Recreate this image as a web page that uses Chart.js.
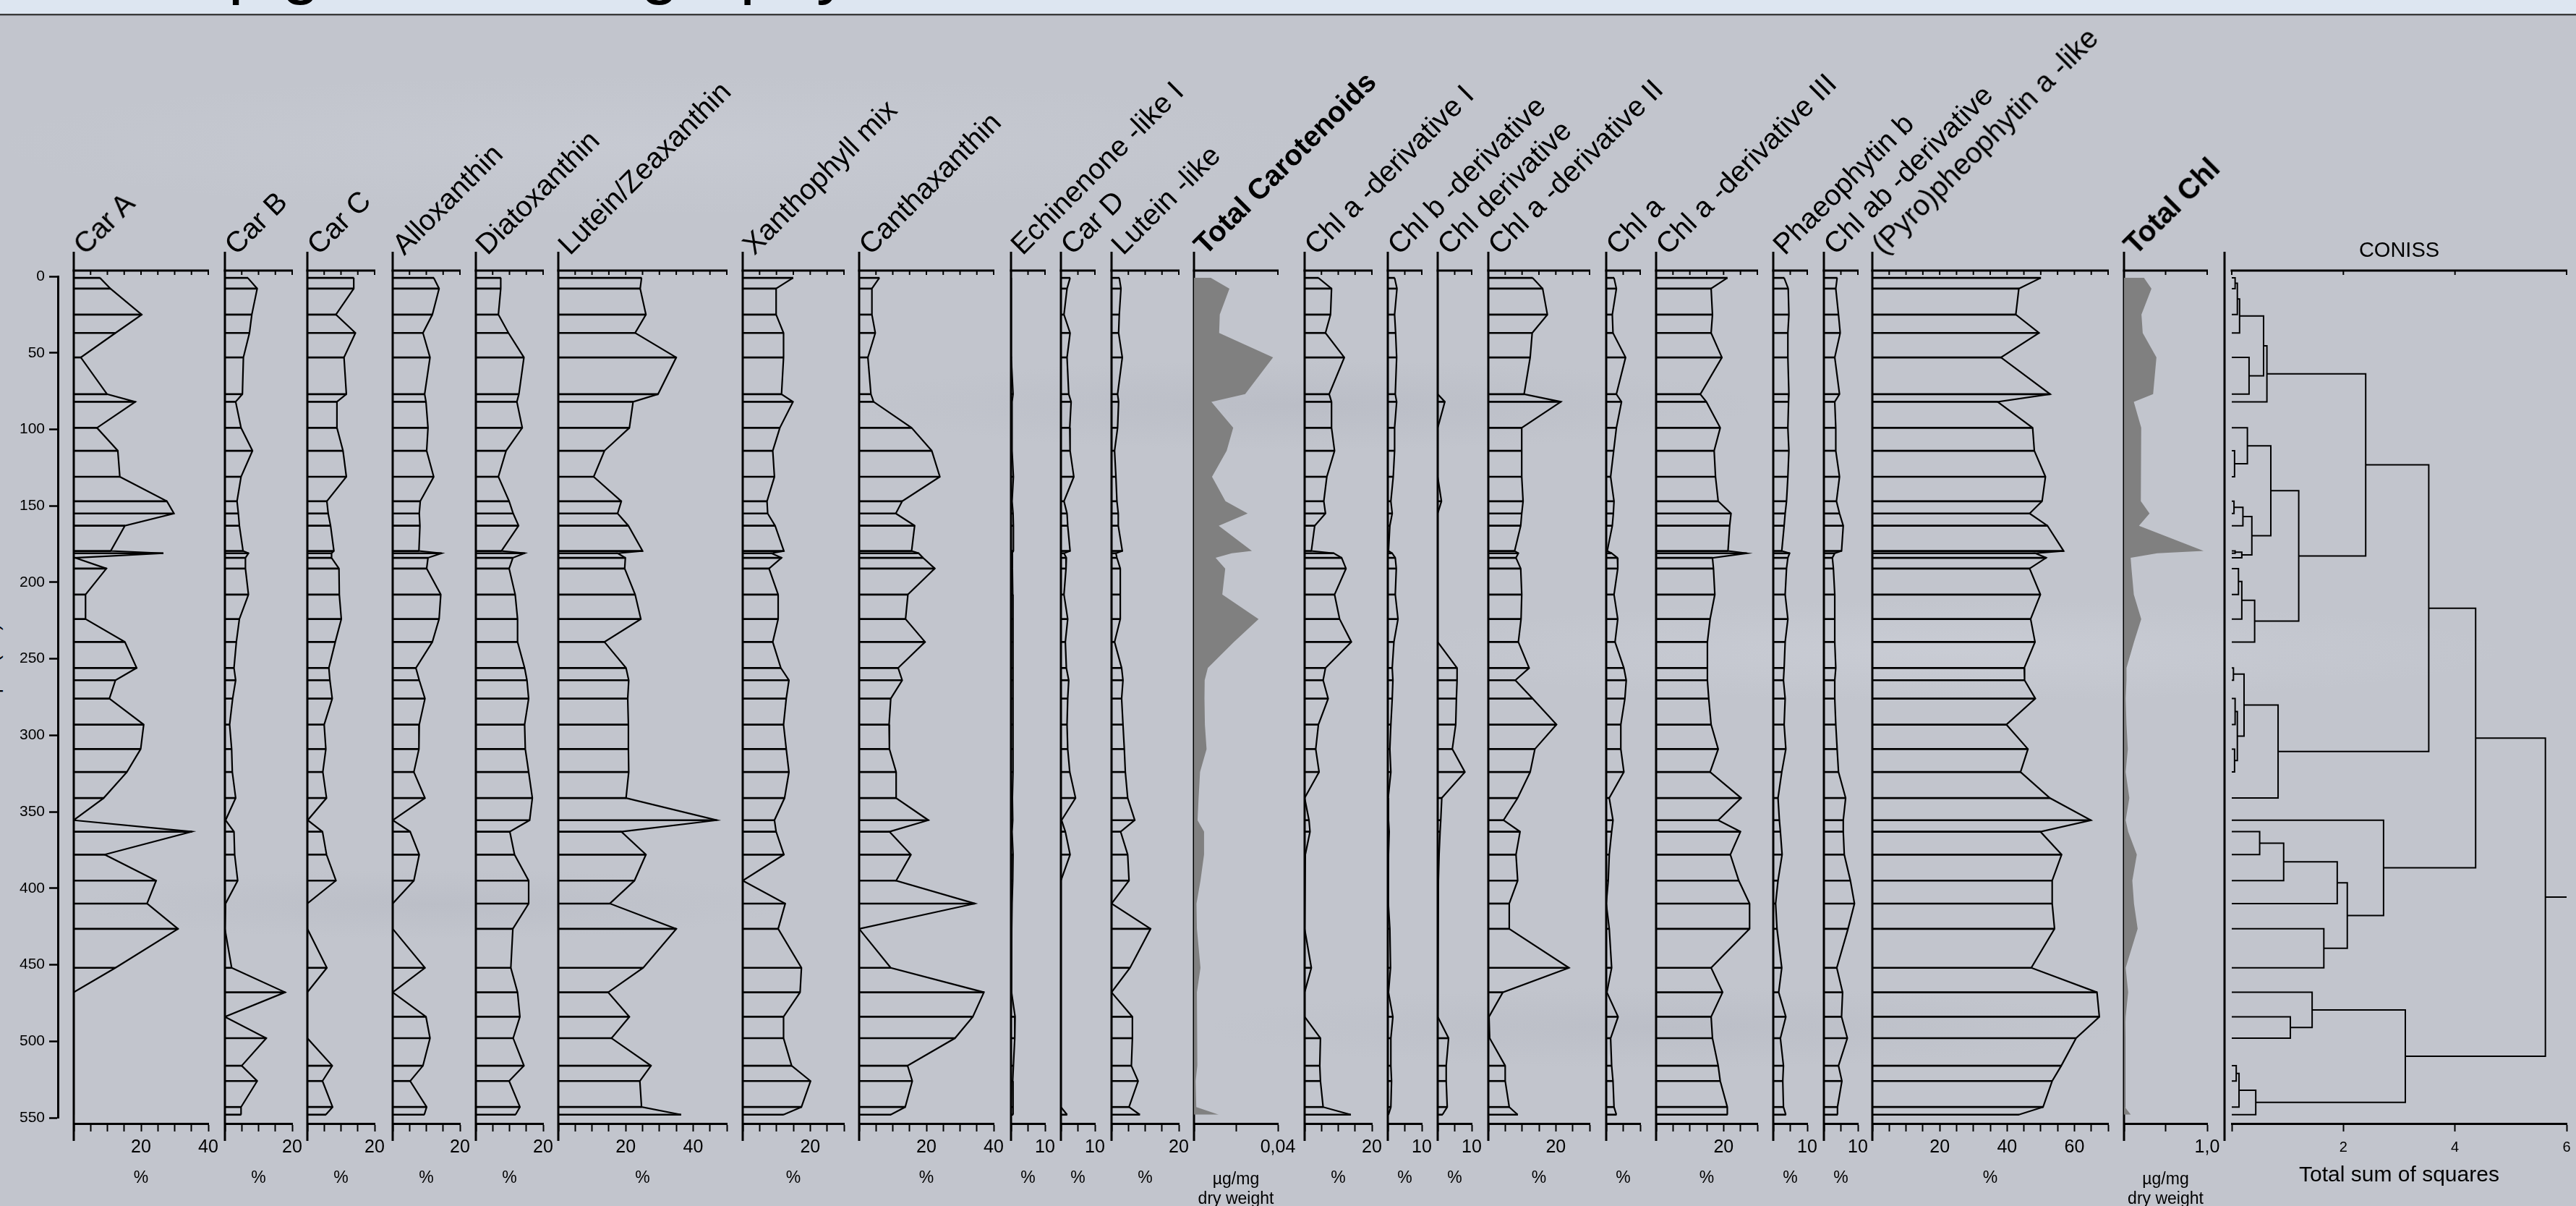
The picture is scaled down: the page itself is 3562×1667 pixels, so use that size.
<!DOCTYPE html>
<html>
<head>
<meta charset="utf-8">
<title>Fossil pigment stratigraphy</title>
<script src="https://cdn.jsdelivr.net/npm/chart.js@4.4.1/dist/chart.umd.min.js"></script>
<style>
  html, body { margin: 0; padding: 0; }
  body {
    width: 3562px; height: 1667px; overflow: hidden; position: relative;
    font-family: "Liberation Sans", Arial, sans-serif;
    background-color: #c2c5cd;
    background-image:
      radial-gradient(ellipse 900px 90px at 1800px 560px, rgba(165,168,180,0.25), rgba(165,168,180,0) 70%),
      radial-gradient(ellipse 700px 70px at 600px 1250px, rgba(165,168,180,0.22), rgba(165,168,180,0) 70%),
      radial-gradient(ellipse 1100px 100px at 2700px 900px, rgba(214,217,226,0.35), rgba(214,217,226,0) 70%),
      radial-gradient(ellipse 1300px 140px at 900px 200px, rgba(208,211,220,0.35), rgba(208,211,220,0) 70%),
      radial-gradient(ellipse 900px 80px at 2300px 1420px, rgba(165,168,180,0.22), rgba(165,168,180,0) 70%);
  }
  #band {
    position: absolute; left: 0; top: 0; width: 100%; height: 19px;
    background: #dde6f1; border-bottom: 2px solid #3a3a3a; box-shadow: 0 1px 0 #8a8d95;
    overflow: hidden; z-index: 5;
  }
  #band span {
    position: absolute; left: 41px; top: -93px; font-size: 95px; line-height: 1;
    white-space: nowrap; color: #000;
  }
  canvas { position: absolute; top: 0; }
  .lab {
    position: absolute; font-size: 40px; line-height: 1; white-space: nowrap; color: #000;
    transform-origin: 0 34px; transform: rotate(-45deg); z-index: 4;
  }
  .lab.b { font-weight: bold; }
  #depthTitle {
    position: absolute; left: -10px; top: 927px; font-size: 26px; line-height: 1;
    white-space: nowrap; color: #000; transform: translate(-50%, -50%) rotate(-90deg);
  }
</style>
</head>
<body>
<div id="band"><span>Fossil pigment stratigraphy</span></div>
<div id="depthTitle">Depth (cm)</div>
<script>
// ---------- sample depths (cm) ----------
const depths = [1, 8, 25, 37, 53, 77, 82, 99, 114, 131, 147, 155, 163, 179.5, 181, 184, 191, 208, 224, 239,
  256, 264, 276, 293, 309, 324, 341, 355.5, 363, 378, 395, 410, 426.5, 452, 468, 484, 498, 516, 526, 543, 548];
const depthTicks = [0, 50, 100, 150, 200, 250, 300, 350, 400, 450, 500, 550];

// ---------- carotenoids (% of total) ----------
const carA = [7.8, 10.9, 20.2, 12.4, 2.1, 9.9, 18.3, 6.9, 13.1, 13.7, 27.7, 29.8, 15.2, 11.0, 26.6, 0.4, 9.7, 3.5, 3.5, 15.2,
  18.7, 12.4, 10.6, 20.8, 19.9, 15.8, 8.9, 0, 35.1, 9.2, 24.5, 21.8, 31.0, 12.4, 0, 0, 0, 0, 0, 0, 0];
const carB = [6.8, 9.6, 8.0, 7.3, 5.5, 5.2, 3.2, 4.8, 8.2, 4.8, 3.6, 4.0, 4.3, 5.4, 7.0, 6.1, 6.1, 7.0, 4.3, 3.4,
  2.7, 3.2, 2.3, 1.4, 2.0, 2.2, 3.2, 0.2, 2.7, 2.9, 3.8, 0.2, 0, 2.0, 17.9, 0, 12.3, 5.0, 9.6, 4.8, 4.8];
const carC = [13.8, 13.8, 8.5, 14.3, 10.9, 11.6, 8.8, 8.8, 10.6, 11.6, 5.8, 6.2, 6.9, 7.9, 7.2, 7.2, 9.4, 9.5, 10.1, 8.3,
  6.4, 6.7, 7.4, 5.0, 5.5, 4.6, 5.7, 0.1, 4.5, 5.7, 8.5, 0, 0, 5.8, 0, 0, 0, 7.4, 4.5, 7.5, 5.5];
const alloxanthin = [12.2, 13.8, 11.8, 9.0, 11.1, 9.5, 9.9, 10.5, 10.1, 12.2, 8.2, 7.9, 8.1, 7.8, 14.5, 10.5, 10.1, 14.3, 13.8, 11.8,
  6.9, 7.9, 9.6, 7.9, 7.8, 6.3, 9.6, 0, 5.2, 7.9, 6.3, 0, 0, 9.6, 0, 9.9, 11.1, 9.0, 5.2, 10.1, 9.4];
const diatoxanthin = [7.4, 7.4, 6.7, 9.7, 14.3, 12.8, 12.2, 13.8, 9.0, 6.7, 9.9, 11.1, 12.7, 7.6, 14.5, 11.0, 9.9, 11.7, 12.4, 12.4,
  14.5, 15.2, 15.7, 14.5, 14.7, 15.7, 16.8, 16.0, 10.1, 11.5, 15.7, 15.7, 11.0, 10.4, 12.4, 13.1, 11.1, 14.3, 9.9, 13.1, 11.8];
const luteinZeaxanthin = [24.7, 24.3, 26.0, 22.8, 35.0, 29.6, 22.2, 21.1, 13.7, 10.5, 18.7, 17.6, 20.8, 25.0, 17.6, 19.9, 19.7, 22.8, 24.5, 13.7,
  20.1, 20.9, 20.6, 20.8, 20.8, 20.9, 20.1, 47.0, 18.7, 26.0, 22.6, 15.3, 35.0, 25.2, 14.8, 21.1, 15.8, 27.5, 24.2, 24.7, 36.4];
const xanthophyllMix = [14.9, 9.9, 9.9, 12.1, 12.1, 11.5, 14.9, 11.0, 8.9, 9.4, 7.2, 7.4, 9.6, 12.2, 8.5, 11.5, 7.8, 10.5, 10.5, 8.9,
  11.3, 13.7, 12.9, 12.1, 12.9, 13.7, 12.4, 9.4, 9.9, 12.2, 0, 12.6, 10.5, 17.4, 17.0, 12.1, 12.1, 14.5, 20.1, 17.4, 12.1];
const canthaxanthin = [6.0, 3.8, 3.8, 4.8, 2.6, 3.5, 4.3, 15.6, 21.6, 24.0, 12.8, 10.9, 16.5, 15.6, 17.7, 19.0, 22.5, 14.5, 13.8, 19.6,
  11.6, 12.8, 9.4, 8.9, 9.0, 11.0, 11.0, 20.6, 9.0, 15.4, 11.0, 34.4, 0, 9.4, 37.1, 33.8, 28.5, 14.4, 15.8, 13.7, 9.4];
const echinenoneLike = [0, 0, 0, 0, 0.2, 0.6, 0.3, 0.3, 0.3, 0.7, 0.3, 0.6, 0.7, 0.7, 0.3, 0.4, 0.4, 0.5, 0.6, 0.6,
  0.6, 0.6, 0.6, 0.6, 0.6, 0.5, 0.4, 0.5, 0.3, 0.6, 0.5, 0.3, 0.2, 0.1, 0.2, 1.2, 1.1, 0.7, 0.5, 0.6, 0.6];
const carD = [2.7, 1.8, 0.9, 2.7, 1.8, 2.3, 3.0, 2.6, 2.7, 3.8, 0.9, 1.8, 2.0, 2.7, 0.9, 1.6, 1.5, 0.9, 2.0, 1.3,
  1.6, 2.3, 2.0, 1.8, 2.0, 2.6, 4.3, 0.2, 1.3, 2.7, 0, 0, 0, 0, 0, 0, 0, 0, 0, 0, 1.8];
const luteinLike = [2.3, 2.8, 2.3, 2.1, 3.2, 1.8, 2.1, 1.8, 0.9, 1.3, 1.6, 2.0, 2.0, 3.2, 1.3, 1.6, 2.6, 2.6, 2.6, 0.9,
  3.0, 3.4, 3.0, 3.4, 3.8, 4.1, 4.8, 6.9, 2.7, 4.8, 5.2, 0, 11.6, 5.5, 0, 6.2, 6.2, 5.9, 7.9, 5.2, 8.4];
// total carotenoids (ug/mg dry weight)
const totalCarotenoids = [0.008, 0.0169, 0.0123, 0.012, 0.0377, 0.0244, 0.0083, 0.0187, 0.0156, 0.0086, 0.015, 0.0256, 0.0118, 0.0276, 0.018,
  0.0103, 0.0149, 0.0135, 0.0308, 0.019, 0.0066, 0.0051, 0.005, 0.0052, 0.006, 0.0029, 0.0022, 0.0017, 0.0048, 0.0048,
  0.0031, 0.0012, 0.0014, 0.0031, 0.0014, 0.0017, 0.0017, 0.0014, 0.0008, 0.0011, 0.0118];

// ---------- chlorophylls and derivatives (% of total) ----------
const chlADerivI = [4.1, 8.0, 7.7, 6.2, 11.8, 7.3, 8.0, 8.0, 8.9, 6.6, 5.7, 6.2, 3.0, 2.0, 8.7, 11.0, 12.3, 8.9, 10.4, 13.9,
  6.2, 5.5, 7.0, 4.1, 3.3, 4.3, 0, 1.3, 1.6, 0.2, 0, 0, 0, 2.0, 0, 0, 4.7, 4.5, 4.7, 5.5, 13.7];
const chlBDeriv = [2.0, 2.7, 2.0, 2.3, 2.6, 2.2, 2.6, 2.0, 2.0, 1.6, 0.9, 1.3, 0.6, 0.2, 1.3, 2.2, 2.5, 2.2, 3.0, 1.8,
  1.3, 1.5, 1.3, 0.9, 0.6, 0.9, 0.1, 0.2, 0.4, 0.2, 0.1, 0.2, 0.6, 0.8, 0.2, 1.5, 0.9, 0.9, 1.1, 0.9, 0.2];
const chlDeriv = [0, 0, 0, 0, 0, 0, 2.1, 0, 0, 0, 1.1, 0, 0, 0, 0, 0, 0, 0, 0, 0,
  5.7, 5.7, 5.5, 5.3, 4.3, 8.0, 1.2, 0.9, 0.7, 0.4, 0.2, 0.1, 0, 0, 0, 0, 3.2, 2.5, 2.5, 2.8, 1.4];
const chlADerivII = [13.1, 16.1, 17.5, 13.0, 12.4, 10.6, 21.5, 9.9, 9.9, 9.9, 10.3, 9.9, 9.6, 7.8, 8.9, 8.2, 9.6, 9.9, 9.7, 8.9,
  12.1, 8.0, 13.1, 20.2, 13.8, 12.4, 8.7, 4.5, 9.4, 8.2, 8.7, 6.2, 6.2, 23.9, 4.3, 0.2, 0.4, 5.0, 5.0, 6.2, 8.7];
const chlA = [2.3, 3.0, 1.8, 2.0, 5.7, 3.0, 4.5, 3.0, 2.2, 1.3, 2.3, 2.1, 1.8, 0.3, 1.6, 3.3, 3.4, 2.3, 3.4, 2.6,
  5.2, 5.9, 5.5, 4.3, 4.3, 5.2, 0.9, 2.0, 1.6, 0.9, 0.6, 0, 0.9, 1.6, 0.2, 3.5, 1.3, 1.6, 2.0, 2.3, 3.0];
const chlADerivIII = [21.1, 16.3, 16.7, 16.3, 19.5, 13.1, 14.9, 19.0, 17.2, 17.6, 18.4, 22.2, 21.8, 21.3, 26.8, 16.7, 17.0, 17.4, 16.0, 15.2,
  15.2, 15.2, 15.6, 16.3, 18.4, 16.0, 25.2, 18.4, 25.0, 22.0, 24.5, 27.7, 27.7, 16.3, 19.7, 16.3, 16.7, 18.4, 19.0, 21.1, 21.1];
const phaeophytinB = [3.2, 4.4, 4.6, 4.3, 4.3, 4.6, 4.5, 4.3, 4.6, 4.3, 3.9, 3.5, 3.2, 2.5, 4.8, 4.3, 3.9, 3.5, 4.3, 3.5,
  3.2, 3.0, 3.5, 3.2, 3.7, 2.5, 1.4, 1.8, 2.1, 2.6, 1.4, 0.7, 1.1, 2.5, 1.6, 3.7, 2.1, 3.0, 2.8, 3.0, 3.7];
const chlAbDeriv = [3.9, 3.5, 4.3, 4.8, 3.2, 4.6, 3.2, 3.5, 3.5, 4.6, 3.7, 4.6, 5.7, 5.2, 3.2, 2.5, 2.8, 3.2, 3.2, 3.2,
  3.5, 3.2, 3.2, 3.5, 3.9, 4.3, 6.4, 5.7, 5.7, 6.0, 7.8, 9.0, 7.1, 3.8, 5.5, 5.2, 6.9, 4.3, 5.3, 4.0, 4.0];
const pyropheophytinLike = [50.0, 43.5, 42.6, 49.5, 38.2, 52.8, 37.2, 47.6, 48.1, 51.4, 50.4, 46.7, 52.0, 56.8, 48.4, 51.6, 46.7, 49.9, 47.0, 48.3,
  45.1, 45.2, 48.4, 39.8, 46.2, 44.0, 52.7, 64.9, 49.9, 56.2, 53.4, 53.4, 54.1, 47.2, 66.7, 67.4, 60.5, 56.1, 53.4, 50.7, 43.5];
// total chlorophyll (ug/mg dry weight)
const totalChl = [0.24, 0.33, 0.21, 0.225, 0.39, 0.35, 0.118, 0.207, 0.2, 0.2, 0.207, 0.307, 0.18, 0.957, 0.4, 0.08, 0.09, 0.118, 0.207, 0.12,
  0.03, 0.03, 0.02, 0.03, 0.046, 0.02, 0.064, 0.02, 0.05, 0.154, 0.1, 0.12, 0.164, 0.02, 0.05, 0.02, 0.01, 0.01, 0.01, 0.01, 0.082];

// ---------- panel definitions ----------
const panelNames = ['Car A', 'Car B', 'Car C', 'Alloxanthin', 'Diatoxanthin', 'Lutein/Zeaxanthin', 'Xanthophyll mix',
  'Canthaxanthin', 'Echinenone -like I', 'Car D', 'Lutein -like', 'Total Carotenoids', 'Chl a -derivative I',
  'Chl b -derivative', 'Chl derivative', 'Chl a -derivative II', 'Chl a', 'Chl a -derivative III', 'Phaeophytin b',
  'Chl ab -derivative', '(Pyro)pheophytin a -like', 'Total Chl'];
const panelSeries = [carA, carB, carC, alloxanthin, diatoxanthin, luteinZeaxanthin, xanthophyllMix, canthaxanthin,
  echinenoneLike, carD, luteinLike, totalCarotenoids, chlADerivI, chlBDeriv, chlDeriv, chlADerivII, chlA, chlADerivIII,
  phaeophytinB, chlAbDeriv, pyropheophytinLike, totalChl];
const panelMax = [40, 20, 20, 20, 20, 50, 30, 40, 10, 10, 20, 0.04, 20, 10, 10, 30, 10, 30, 10, 10, 70, 1.0];
const panelStep = [5, 5, 5, 5, 5, 5, 5, 5, 5, 5, 5, 0.02, 5, 5, 5, 5, 5, 5, 5, 5, 5, 0.5];
const panelTickLabels = [
  [[20, '20'], [40, '40']], [[20, '20']], [[20, '20']], [[20, '20']], [[20, '20']], [[20, '20'], [40, '40']],
  [[20, '20']], [[20, '20'], [40, '40']], [[10, '10']], [[10, '10']], [[20, '20']], [[0.04, '0,04']],
  [[20, '20']], [[10, '10']], [[10, '10']], [[20, '20']], [], [[20, '20']], [[10, '10']], [[10, '10']],
  [[20, '20'], [40, '40'], [60, '60']], [[1, '1,0']]
];
const panelUnits = ['%', '%', '%', '%', '%', '%', '%', '%', '%', '%', '%', ['µg/mg', 'dry weight'],
  '%', '%', '%', '%', '%', '%', '%', '%', '%', ['µg/mg', 'dry weight']];
const panelIsTotal = [false, false, false, false, false, false, false, false, false, false, false, true,
  false, false, false, false, false, false, false, false, false, true];

// ---------- CONISS clustering (leaf = sample index, node k = 41 + k) ----------
const conissMerges = [
  [0, 1, 0.06], [41, 2, 0.10], [42, 3, 0.14], [4, 5, 0.31], [43, 44, 0.57], [45, 6, 0.63],
  [8, 9, 0.05], [7, 47, 0.28], [10, 11, 0.04], [13, 14, 0.06], [50, 15, 0.18], [49, 12, 0.20],
  [52, 51, 0.36], [48, 53, 0.70], [16, 17, 0.12], [55, 18, 0.18], [56, 19, 0.41], [54, 57, 1.20],
  [46, 58, 2.40],
  [20, 21, 0.03], [22, 23, 0.06], [24, 25, 0.05], [61, 62, 0.10], [60, 63, 0.22], [64, 26, 0.83],
  [59, 65, 3.53],
  [28, 29, 0.50], [67, 30, 0.93], [68, 31, 1.89], [32, 33, 1.65], [69, 70, 2.07], [27, 71, 2.72],
  [66, 72, 4.37],
  [35, 36, 1.05], [34, 74, 1.44], [37, 38, 0.08], [76, 39, 0.13], [77, 40, 0.43], [75, 78, 3.11],
  [73, 79, 5.62]
];
const conissMax = 6;
const conissTickLabels = [[2, '2'], [4, '4'], [6, '6']];

// ---------- layout ----------
const FONT = '"Liberation Sans", Arial, sans-serif';
const PX_PER_PCT = 4.655;
const panelLeft = [101.7, 310.7, 425, 542.5, 657.7, 772.3, 1026.7, 1188.3, 1397.7, 1467.3, 1537.3, 1651,
  1804, 1919, 1988.3, 2058.3, 2220.7, 2290, 2451.7, 2521.7, 2589, 2937.2];
const totalPanelWidth = { 11: 116, 21: 115 };
const CONISS_LEFT = 3086, CONISS_WIDTH = 463;
const AREA_TOP = 374, AREA_BOTTOM = 1553, CANVAS_H = 1671, XAXIS_H = 118, SIDE = 40;
const DEPTH_TOP_PX = 382, DEPTH_BOTTOM_PX = 1545;
const pxPerCm = (DEPTH_BOTTOM_PX - DEPTH_TOP_PX) / 550;
const Y_MIN = -(DEPTH_TOP_PX - AREA_TOP) / pxPerCm;
const Y_MAX = 550 + (AREA_BOTTOM - DEPTH_BOTTOM_PX) / pxPerCm;

// frame: left spine running past both axes, plus a top axis with inward ticks
const framePlugin = {
  id: 'frame',
  beforeDatasetsDraw(chart, args, opts) {
    const { ctx, chartArea: a, scales } = chart;
    const x = scales.x;
    ctx.save();
    ctx.strokeStyle = '#000';
    ctx.lineWidth = 3;
    const lx = a.left + (opts.spineOffset || 0);
    ctx.beginPath(); ctx.moveTo(lx, a.top - 26); ctx.lineTo(lx, a.bottom + 24); ctx.stroke();
    ctx.beginPath(); ctx.moveTo(a.left - 1.5, a.top); ctx.lineTo(a.right + 1, a.top); ctx.stroke();
    ctx.lineWidth = 2;
    x.ticks.forEach(t => {
      const px = x.getPixelForValue(t.value);
      ctx.beginPath(); ctx.moveTo(px, a.top); ctx.lineTo(px, a.top + 6); ctx.stroke();
    });
    ctx.restore();
  }
};
Chart.register(framePlugin);

function addCanvas(left, width) {
  const c = document.createElement('canvas');
  c.width = Math.round(width); c.height = CANVAS_H;
  c.style.left = left + 'px';
  c.style.width = Math.round(width) + 'px';
  c.style.height = CANVAS_H + 'px';
  document.body.appendChild(c);
  return c;
}

function tickValues(max, step) {
  const out = [];
  const n = Math.round(max / step);
  for (let k = 0; k <= n; k++) out.push(+(k * step).toFixed(6));
  return out;
}

function labelLookup(pairs) {
  return v => {
    const hit = pairs.find(p => Math.abs(p[0] - v) < 1e-9);
    return hit ? hit[1] : '';
  };
}

function bottomAxis(max, step, pairs, unit, tickFont, tickPad, titleFont, titlePad) {
  return {
    type: 'linear', position: 'bottom', min: 0, max: max, offset: false,
    afterBuildTicks: s => { s.ticks = tickValues(max, step).map(v => ({ value: v })); },
    afterFit: s => { s.height = XAXIS_H; },
    border: { display: true, color: '#000', width: 3 },
    grid: { display: true, drawOnChartArea: false, drawTicks: true, tickLength: 11, tickWidth: 2, tickColor: '#000', offset: false },
    ticks: { autoSkip: false, maxRotation: 0, minRotation: 0, padding: tickPad, color: '#000',
      font: { family: FONT, size: tickFont }, callback: labelLookup(pairs) },
    title: { display: true, text: unit, color: '#000', font: { family: FONT, size: titleFont, lineHeight: 1.15 },
      padding: { top: 0, bottom: titlePad } }
  };
}

// ---------- depth axis ----------
(function () {
  const cv = addCanvas(0, 100);
  new Chart(cv, {
    type: 'scatter',
    data: { datasets: [] },
    options: {
      responsive: false, animation: false, events: [],
      layout: { padding: { left: 0, right: 0, top: DEPTH_TOP_PX, bottom: CANVAS_H - DEPTH_BOTTOM_PX } },
      plugins: { legend: { display: false }, tooltip: { enabled: false }, frame: false },
      scales: {
        x: { type: 'linear', display: false, min: 0, max: 1 },
        y: {
          type: 'linear', position: 'left', reverse: true, min: 0, max: 550,
          afterBuildTicks: s => { s.ticks = depthTicks.map(v => ({ value: v })); },
          afterFit: s => { s.width = 80; },
          border: { display: true, color: '#000', width: 3 },
          grid: { drawOnChartArea: false, drawTicks: true, tickLength: 12, tickWidth: 2.5, tickColor: '#000' },
          ticks: { color: '#000', padding: 6, font: { family: FONT, size: 21 } }
        }
      }
    }
  });
})();

// ---------- pigment panels ----------
panelNames.forEach((name, i) => {
  const isTotal = panelIsTotal[i];
  const w = isTotal ? totalPanelWidth[i] : panelMax[i] * PX_PER_PCT;
  const cv = addCanvas(panelLeft[i] - SIDE, w + 2 * SIDE);
  const values = panelSeries[i];
  const points = depths.map((d, k) => ({ x: values[k], y: d }));
  const datasets = [];
  if (!isTotal) {
    datasets.push({ type: 'bar', data: points, backgroundColor: '#000', borderWidth: 0, barThickness: 2, order: 2 });
  }
  datasets.push({
    type: 'line', data: points, tension: 0, pointRadius: 0, order: 1,
    borderColor: isTotal ? 'rgba(0,0,0,0)' : '#000', borderWidth: isTotal ? 0 : 2.2,
    borderJoinStyle: 'miter', fill: isTotal ? 'origin' : false, backgroundColor: '#808080'
  });
  new Chart(cv, {
    type: 'bar',
    data: { datasets },
    options: {
      responsive: false, animation: false, events: [],
      indexAxis: 'y',
      layout: { padding: { left: SIDE, right: SIDE, top: AREA_TOP, bottom: 0 } },
      plugins: { legend: { display: false }, tooltip: { enabled: false }, frame: { spineOffset: 0 } },
      scales: {
        y: { type: 'linear', min: Y_MIN, max: Y_MAX, reverse: true, display: false, offset: false },
        x: bottomAxis(panelMax[i], panelStep[i], panelTickLabels[i], panelUnits[i], 25, 7, 23, isTotal ? 0.4 : 29.3)
      }
    }
  });

  const lab = document.createElement('div');
  lab.className = 'lab' + (isTotal ? ' b' : '');
  lab.textContent = name;
  lab.style.left = (panelLeft[i] + 16) + 'px';
  lab.style.top = (354 - 34) + 'px';
  document.body.appendChild(lab);
});

// ---------- CONISS dendrogram ----------
(function () {
  const nodeY = depths.slice();
  const nodeH = depths.map(() => 0);
  const sets = [];
  const seg = pts => ({ data: pts, showLine: true, borderColor: '#000', borderWidth: 2, pointRadius: 0, tension: 0 });
  conissMerges.forEach(([a, b, h]) => {
    sets.push(seg([
      { x: nodeH[a], y: nodeY[a] }, { x: h, y: nodeY[a] },
      { x: h, y: nodeY[b] }, { x: nodeH[b], y: nodeY[b] }
    ]));
    nodeY.push((nodeY[a] + nodeY[b]) / 2);
    nodeH.push(h);
  });
  const root = nodeY.length - 1;
  sets.push(seg([{ x: nodeH[root], y: nodeY[root] }, { x: conissMax, y: nodeY[root] }]));

  const cv = addCanvas(CONISS_LEFT - SIDE, CONISS_WIDTH + 2 * SIDE);
  const xAxis = bottomAxis(conissMax, 2, conissTickLabels, 'Total sum of squares', 20, 10.7, 30, 28);
  xAxis.title.font = { family: FONT, size: 30, lineHeight: 1.2 };
  new Chart(cv, {
    type: 'scatter',
    data: { datasets: sets },
    options: {
      responsive: false, animation: false, events: [],
      layout: { padding: { left: SIDE, right: SIDE, top: AREA_TOP - (29 * 1.2 + 9.6), bottom: 0 } },
      plugins: {
        legend: { display: false }, tooltip: { enabled: false },
        title: { display: true, text: 'CONISS', color: '#000', font: { family: FONT, size: 29, weight: 'normal' },
          padding: { top: 0, bottom: 9.6 } },
        frame: { spineOffset: -10 }
      },
      scales: {
        y: { type: 'linear', min: Y_MIN, max: Y_MAX, reverse: true, display: false },
        x: xAxis
      }
    }
  });
})();
</script>
</body>
</html>
